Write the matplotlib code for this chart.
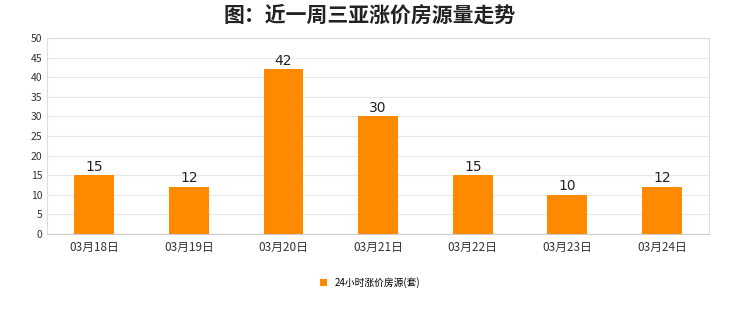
import matplotlib.pyplot as plt

plt.rcParams['font.family'] = ['Noto Sans CJK SC', 'DejaVu Sans']

dates = ['03月18日', '03月19日', '03月20日', '03月21日', '03月22日', '03月23日', '03月24日']
counts = [15, 12, 42, 30, 15, 10, 12]
series_name = '24小时涨价房源(套)'

fig = plt.figure(figsize=(7.4, 3.12), dpi=100)
ax = fig.add_axes([0.0635, 0.25, 0.895, 0.628])

x = range(len(dates))
bars = ax.bar(x, counts, width=0.42, color='#FF8A00', label=series_name, zorder=3)
for xi, v in zip(x, counts):
    ax.text(xi, v + 0.4, str(v), ha='center', va='bottom', fontsize=10,
            family='DejaVu Sans', color='#222222', zorder=4)

ax.set_xlim(-0.5, len(dates) - 0.5)
ax.set_ylim(0, 50)
ax.set_yticks(range(0, 51, 5))
ax.set_xticks(list(x))
ax.set_xticklabels(dates, fontsize=8.5)
ax.tick_params(axis='both', length=0, colors='#333333')
ax.tick_params(axis='y', labelsize=7.5)
ax.tick_params(axis='x', pad=5)
ax.grid(axis='y', color='#E8E8E8', linewidth=0.8, zorder=0)
for name, sp in ax.spines.items():
    sp.set_color('#DDDDDD')
    sp.set_linewidth(0.8)
ax.spines['bottom'].set_color('#CCCCCC')

fig.suptitle('图：近一周三亚涨价房源量走势', x=0.5, y=0.985, fontsize=15,
             fontweight='bold', color='#222222')

leg = fig.legend(handles=[bars], labels=[series_name], loc='center', bbox_to_anchor=(0.5, 0.095),
                 frameon=False, fontsize=7, handlelength=0.7, handleheight=0.7, handletextpad=0.8)

fig.savefig('out.png', dpi=100, facecolor='white')
